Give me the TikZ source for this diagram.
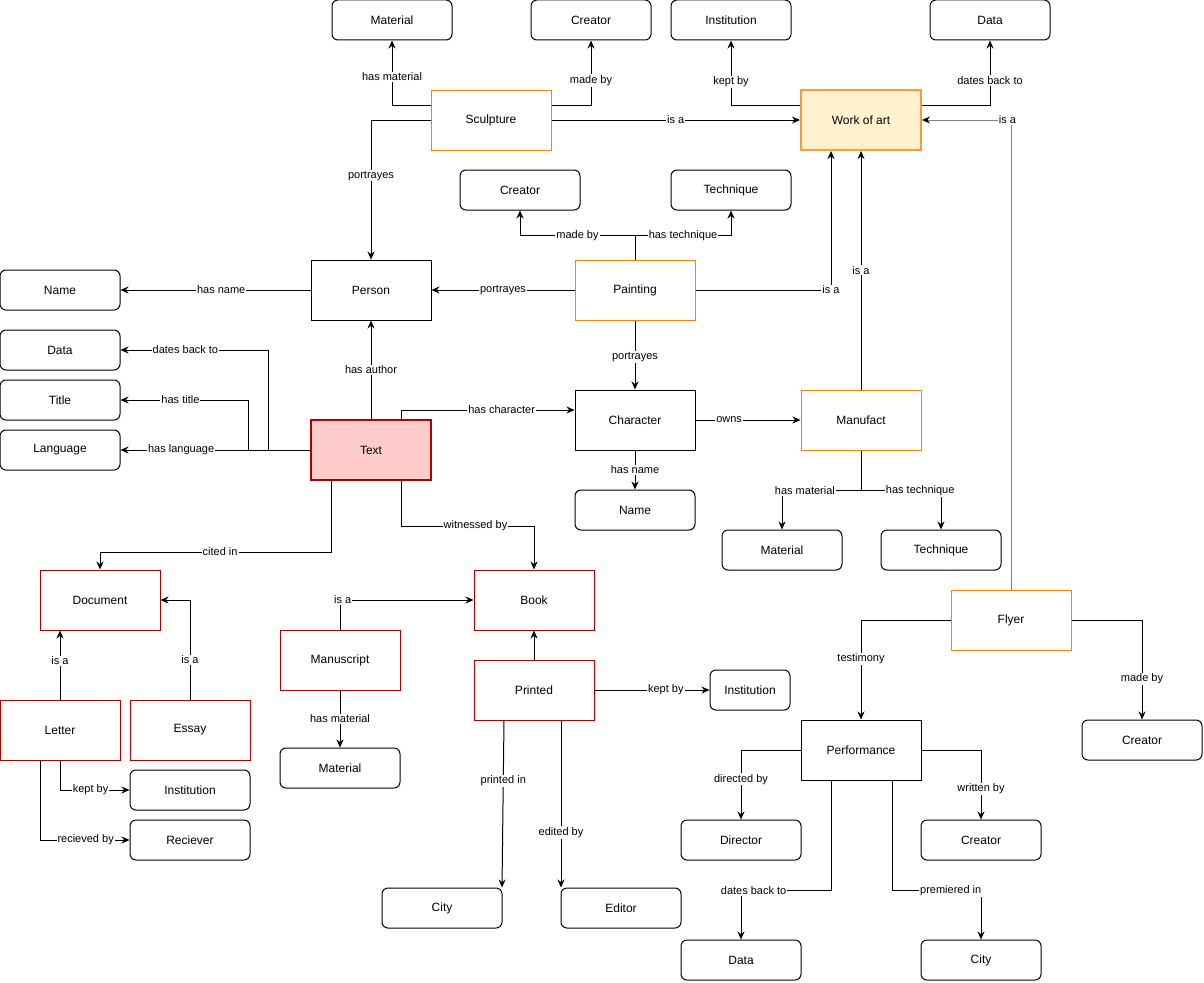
\documentclass[tikz,border=0pt]{standalone}
\usepackage{fontspec}
\setmainfont{Liberation Sans}
\usetikzlibrary{arrows.meta}
\definecolor{orng}{HTML}{FF8000}
\definecolor{woaline}{HTML}{FF9933}
\definecolor{woafill}{HTML}{FFF2CC}
\definecolor{dred}{HTML}{B20000}
\definecolor{txtfill}{HTML}{FFCCCC}

\begin{document}
\begin{tikzpicture}[x=1pt, y=-1pt, font=\fontsize{12}{14}\selectfont,
    box/.style={draw, minimum width=120pt, minimum height=60pt, inner sep=0pt, line width=1pt},
    attr/.style={box, rounded corners=6pt, minimum height=40pt},
    kind/.style={box, draw=orng},
    src/.style={box, draw=dred},
    rel/.style={-{Stealth[length=8pt,width=7pt]}, line width=1pt},
    lbl/.style={fill=white, inner sep=1pt, font=\fontsize{11}{13}\selectfont}]
    \useasboundingbox (0,0) rectangle (1204,982);

    \node[attr] (mat1) at (392,20) {Material};
    \node[attr] (cre1) at (591,20) {Creator};
    \node[attr] (inst1) at (731,20) {Institution};
    \node[attr] (data2) at (990,20) {Data};
    \node[box, draw=woaline, fill=woafill, line width=2pt] (woa) at (861,120) {Work of art};
    \node[kind] (sculpt) at (491,120) {Sculpture};
    \node[attr] (cre2) at (520,190) {Creator};
    \node[attr] (tech1) at (731,190) {Technique};

    \node[attr] (name1) at (60,290) {Name};
    \node[box] (person) at (371,290) {Person};
    \node[kind] (paint) at (635,290) {Painting};
    \node[attr] (data1) at (60,350) {Data};
    \node[attr] (title) at (60,400) {Title};
    \node[attr] (lang) at (60,450) {Language};
    \node[box, draw=dred, fill=txtfill, line width=2pt] (text) at (371,450) {Text};
    \node[box] (char) at (635,420) {Character};
    \node[kind] (manuf) at (861,420) {Manufact};
    \node[attr] (name2) at (635,510) {Name};
    \node[attr] (mat2) at (782,550) {Material};
    \node[attr] (tech2) at (941,550) {Technique};

    \node[src] (doc) at (100,600) {Document};
    \node[src] (book) at (534,600) {Book};
    \node[kind] (flyer) at (1011,620) {Flyer};
    \node[src] (manu) at (340,660) {Manuscript};
    \node[src] (printed) at (534,690) {Printed};
    \node[attr, minimum width=80pt] (inst2) at (750,690) {Institution};
    \node[box] (perf) at (861,750) {Performance};
    \node[attr] (cre3) at (1142,740) {Creator};
    \node[src] (letter) at (60,730) {Letter};
    \node[src] (essay) at (190,730) {Essay};
    \node[attr] (mat3) at (340,768) {Material};
    \node[attr] (inst3) at (190,790) {Institution};
    \node[attr] (reciev) at (190,840) {Reciever};
    \node[attr] (director) at (741,840) {Director};
    \node[attr] (cre4) at (981,840) {Creator};
    \node[attr] (city1) at (442,908) {City};
    \node[attr] (editor) at (621,908) {Editor};
    \node[attr] (data3) at (741,960) {Data};
    \node[attr] (city2) at (981,960) {City};

    \draw[rel] ([yshift=15pt]sculpt.west) -| (mat1.south) node[lbl, pos=0.72] {has material};
    \draw[rel] ([yshift=15pt]sculpt.east) -| (cre1.south) node[lbl, pos=0.69] {made by};
    \draw[rel] (sculpt) -- (woa) node[lbl, pos=0.5] {is a};
    \draw[rel] (sculpt.west) -| (person.north) node[lbl, pos=0.7] {portrayes};
    \draw[rel] ([yshift=15pt]woa.west) -| (inst1.south) node[lbl, pos=0.68] {kept by};
    \draw[rel] ([yshift=15pt]woa.east) -| (data2.south) node[lbl, pos=0.69] {dates back to};
    \draw[-{Stealth[length=8pt,width=7pt,black]}, line width=1pt, gray] (flyer.north) |- (woa.east) node[lbl, text=black, pos=0.52] {is a};

    \draw[rel] (paint.north) -- ++(0,-24) -| (cre2.south) node[lbl, pos=0.25] {made by};
    \draw[rel] (paint.north) -- ++(0,-24) -| (tech1.south) node[lbl, pos=0.25] {has technique};
    \draw[rel] (paint) -- (person) node[lbl, pos=0.5] {portrayes};
    \draw[rel] (paint.east) -| ([xshift=-30pt]woa.south) node[lbl, pos=0.5] {is a};
    \draw[rel] (manuf) -- (woa) node[lbl, pos=0.5] {is a};
    \draw[rel] (person) -- (name1) node[lbl, pos=0.47] {has name};
    \draw[rel] (text) -- (person) node[lbl, pos=0.5] {has author};
    \draw[rel] (text.west) -- ++(-42,0) |- (data1.east) node[lbl, pos=0.78] {dates back to};
    \draw[rel] (text.west) -- ++(-62,0) |- (title.east) node[lbl, pos=0.765] {has title};
    \draw[rel] (text) -- (lang) node[lbl, pos=0.68] {has language};
    \draw[rel] ([xshift=30pt]text.north) |- ([yshift=10pt]char.west) node[lbl, pos=0.79] {has character};
    \draw[rel] (paint) -- (char) node[lbl, pos=0.53] {portrayes};
    \draw[rel] (char) -- (manuf) node[lbl, pos=0.32] {owns};
    \draw[rel] (char) -- (name2) node[lbl, pos=0.5] {has name};
    \draw[rel] (manuf.south) -- ++(0,40) -| (mat2.north) node[lbl, pos=0.355] {has material};
    \draw[rel] (manuf.south) -- ++(0,40) -| (tech2.north) node[lbl, pos=0.37] {has technique};

    \draw[rel] ([xshift=-40pt]text.south) -- ++(0,71) -| (doc.north) node[lbl, pos=0.24] {cited in};
    \draw[rel] ([xshift=30pt]text.south) -- ++(0,45) -| (book.north) node[lbl, pos=0.28] {witnessed by};
    \draw[rel] (letter.north) -- ([xshift=-40pt]doc.south) node[lbl, pos=0.56] {is a};
    \draw[rel] (essay.north) |- (doc.east) node[lbl, pos=0.2] {is a};
    \draw[rel] (manu.north) |- (book.west) node[lbl, pos=0.51] {is a};
    \draw[rel] (manu) -- (mat3) node[lbl, pos=0.5] {has material};
    \draw[rel] (printed) -- (book);
    \draw[rel] (printed) -- (inst2) node[lbl, pos=0.62] {kept by};
    \draw[rel] ([xshift=-30pt]printed.south) -- ([xshift=60pt]city1.north) node[lbl, pos=0.36] {printed in};
    \draw[rel] ([xshift=27pt]printed.south) -- ([xshift=-60pt]editor.north) node[lbl, pos=0.67] {edited by};
    \draw[rel] (letter.south) |- (inst3.west) node[lbl, pos=0.72] {kept by};
    \draw[rel] ([xshift=-20pt]letter.south) |- (reciev.west) node[lbl, pos=0.755] {recieved by};

    \draw[rel] (flyer.west) -| (perf.north) node[lbl, pos=0.695] {testimony};
    \draw[rel] (flyer.east) -| (cre3.north) node[lbl, pos=0.795] {made by};
    \draw[rel] (perf.west) -| (director.north) node[lbl, pos=0.71] {directed by};
    \draw[rel] (perf.east) -| (cre4.north) node[lbl, pos=0.78] {written by};
    \draw[rel] ([xshift=-30pt]perf.south) -- ++(0,110) -| (data3.north) node[lbl, pos=0.43] {dates back to};
    \draw[rel] ([xshift=31pt]perf.south) -- ++(0,110) -| (city2.north) node[lbl, pos=0.33] {premiered in};
\end{tikzpicture}
\end{document}
